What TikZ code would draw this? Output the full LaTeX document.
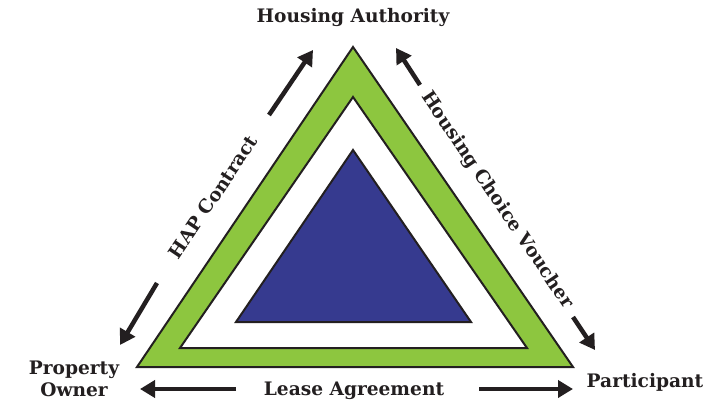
\documentclass[tikz,border=0pt]{standalone}
\usepackage{fontspec}
\setmainfont{DejaVu Serif}
\usetikzlibrary{arrows.meta}
\definecolor{tgreen}{HTML}{8DC63F}
\definecolor{tblue}{HTML}{363A8F}
\definecolor{tdark}{HTML}{231F20}
\tikzset{
  lbl/.style={font=\bfseries\fontsize{18.6}{22}\selectfont, text=tdark, inner sep=0pt},
  arr/.style={line width=4.5pt, draw=tdark, -{Triangle[length=15pt,width=17pt]}},
  tri/.style={line width=2pt, draw=tdark, line join=miter}
}
\begin{document}
\begin{tikzpicture}[x=1pt,y=-1pt]
\useasboundingbox (0,0) rectangle (715,401);
% triangles
\draw[tri, fill=tgreen] (353,47) -- (137,367) -- (573,367) -- cycle;
\draw[tri, fill=white] (353,97) -- (180,348) -- (527,348) -- cycle;
\draw[tri, fill=tblue] (353,150) -- (236,322) -- (471,322) -- cycle;
% labels
\node[lbl] (ha) at (353,18) {Housing Authority};
\node[lbl, align=center] (po) at (74,379) {Property\\Owner};
\node[lbl] (pa) at (645,382) {Participant};
\node[lbl] (la) at (354,391) {Lease Agreement};
\node[lbl, rotate=56] (hap) at (213,197) {HAP Contract};
\node[lbl, rotate=-56] (hcv) at (497,200) {Housing Choice Voucher};
% arrow endpoints
\coordinate (a1s) at (269,115); \coordinate (a1e) at (313,50);
\coordinate (a2s) at (157,283); \coordinate (a2e) at (120,345);
\coordinate (a3s) at (420,85);  \coordinate (a3e) at (396,48);
\coordinate (a4s) at (573,317); \coordinate (a4e) at (595,350);
\coordinate (a5s) at (236,389); \coordinate (a5e) at (140,389);
\coordinate (a6s) at (479,389); \coordinate (a6e) at (573,389);
\draw[arr] (a1s) -- (a1e);
\draw[arr] (a2s) -- (a2e);
\draw[arr] (a3s) -- (a3e);
\draw[arr] (a4s) -- (a4e);
\draw[arr] (a5s) -- (a5e);
\draw[arr] (a6s) -- (a6e);
\end{tikzpicture}
\end{document}
